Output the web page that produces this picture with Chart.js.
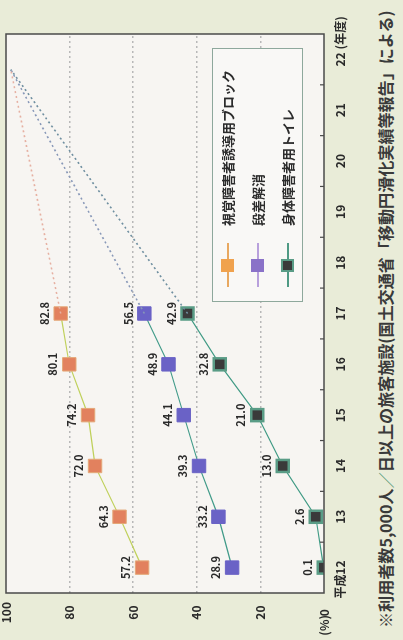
<!DOCTYPE html>
<html lang="ja">
<head>
<meta charset="utf-8">
<title>旅客施設のバリアフリー化の推移</title>
<script src="https://cdn.jsdelivr.net/npm/chart.js@4.4.1/dist/chart.umd.min.js"></script>
<style>
  html, body { margin: 0; padding: 0; }
  body {
    width: 403px; height: 640px; overflow: hidden;
    background: #e9ecd8;
    font-family: "Noto Sans CJK JP", "Noto Sans", sans-serif;
  }
  /* 横向きに描いて -90度回転させる */
  #wrap {
    position: absolute; left: 0; top: 0;
    width: 640px; height: 403px;
    transform-origin: 0 0;
    transform: translate(0, 640px) rotate(-90deg);
  }
  #chart { position: absolute; left: 0; top: 0; }
  #legend {
    position: absolute; left: 338px; top: 212px;
    width: 252px; height: 89px;
    border: 1.5px solid #8ea89c;
    background: #f9f8f6;
  }
  .item {
    position: absolute; left: 0; height: 20px;
    font-size: 13px; font-weight: bold; color: #2c2c2c;
    white-space: nowrap;
  }
  .icon { position: absolute; left: 14px; top: 9px; width: 44px; height: 1.5px; }
  .sq { position: absolute; left: 15px; top: -6px; width: 13px; height: 13px; box-sizing: border-box; }
  .txt { position: absolute; left: 75px; top: 0; line-height: 20px; }
  #note {
    position: absolute; left: 12px; top: 374px;
    font-size: 16px; font-weight: bold; color: #3a3a3a;
    white-space: nowrap; transform-origin: 0 0; line-height: 22px;
  }
  #note .g { color: #5a9a7a; }
</style>
</head>
<body>
<div id="wrap">
  <canvas id="chart" width="640" height="365"></canvas>
  <div id="legend">
    <div class="item" style="top:5px">
      <div class="icon" style="background:#e8a860"><div class="sq" style="background:#f0a24e"></div></div>
      <div class="txt">視覚障害者誘導用ブロック</div>
    </div>
    <div class="item" style="top:35px">
      <div class="icon" style="background:#b8a0dc"><div class="sq" style="background:#8a72c8"></div></div>
      <div class="txt">段差解消</div>
    </div>
    <div class="item" style="top:65px">
      <div class="icon" style="background:#4f9a84"><div class="sq" style="background:#3a3a3a;border:2px solid #5a9c86"></div></div>
      <div class="txt">身体障害者用トイレ</div>
    </div>
  </div>
  <div id="note">※利用者数5,000人<span class="g">／</span>日以上の旅客施設(国土交通省「移動円滑化実績等報告」による)</div>
</div>

<script>
// データ（平成年度）
const years = [12, 13, 14, 15, 16, 17];
const tickYears = [12, 13, 14, 15, 16, 17, 18, 19, 20, 21, 22];
const blockValues = [57.2, 64.3, 72.0, 74.2, 80.1, 82.8];   // 視覚障害者誘導用ブロック
const stepValues = [28.9, 33.2, 39.3, 44.1, 48.9, 56.5];    // 段差解消
const toiletValues = [0.1, 2.6, 13.0, 21.0, 32.8, 42.9];    // 身体障害者用トイレ
const goalPoint = [21.8, 98.5];  // 点線の行き先
const yTicks = [0, 20, 40, 60, 80, 100];

const toXY = vals => vals.map((v, i) => ({ x: years[i], y: v }));
const goalLine = vals => [
    { x: years[years.length - 1], y: vals[vals.length - 1] },
    { x: goalPoint[0], y: goalPoint[1] }
];

const FONT = '"Noto Sans CJK JP", "Noto Sans", sans-serif';

// 背景・枠・目盛り・数値ラベルを描くプラグイン
const decoPlugin = {
    id: 'deco',
    beforeDraw(chart) {
        const { ctx, chartArea: a } = chart;
        ctx.save();
        ctx.fillStyle = '#f7f5f2';
        ctx.fillRect(a.left, a.top, a.right - a.left, a.bottom - a.top);
        ctx.restore();
    },
    afterDatasetsDraw(chart) {
        const { ctx, chartArea: a, scales } = chart;
        ctx.save();
        // 枠
        ctx.strokeStyle = '#4a4a4a';
        ctx.lineWidth = 1.5;
        ctx.strokeRect(a.left, a.top, a.right - a.left, a.bottom - a.top);
        // 内向きの小さい目盛り（年度の間）
        ctx.lineWidth = 1.2;
        for (let h = 12.5; h < 22; h += 1) {
            const px = scales.x.getPixelForValue(h);
            ctx.beginPath();
            ctx.moveTo(px, a.bottom);
            ctx.lineTo(px, a.bottom - 4);
            ctx.stroke();
        }
        // 数値ラベル
        ctx.fillStyle = '#2a2a2a';
        ctx.font = 'bold 11px ' + FONT;
        ctx.textAlign = 'center';
        ctx.textBaseline = 'middle';
        [3, 4, 5].forEach(di => {
            const meta = chart.getDatasetMeta(di);
            const data = chart.data.datasets[di].data;
            meta.data.forEach((pt, i) => {
                ctx.fillText(data[i].y.toFixed(1), pt.x, pt.y - 16);
            });
        });
        // 軸の補足
        ctx.font = 'bold 12px ' + FONT;
        const y0 = scales.y.getPixelForValue(0);
        ctx.textAlign = 'right';
        ctx.fillText('(%)', 25, y0);
        const lx = scales.x.getPixelForValue(12);
        const ly = a.bottom + 16;
        ctx.fillText('平成', lx - 7, ly);
        const rx = scales.x.getPixelForValue(22);
        ctx.textAlign = 'left';
        ctx.fillText('(年度)', rx + 10, ly);
        ctx.restore();
    }
};

const dotted = (data, color) => ({
    data, borderColor: color, borderWidth: 1.6, borderDash: [2, 3],
    pointRadius: 0, fill: false, tension: 0
});

new Chart(document.getElementById('chart'), {
    type: 'line',
    data: {
        datasets: [
            dotted(goalLine(blockValues), '#e6b0a2'),
            dotted(goalLine(stepValues), '#8898b8'),
            dotted(goalLine(toiletValues), '#6f8fa0'),
            {
                label: '視覚障害者誘導用ブロック',
                data: toXY(blockValues),
                borderColor: '#bfd05a', borderWidth: 1.2,
                pointStyle: 'rect', pointRadius: 9.5,
                pointBackgroundColor: '#e2815e', pointBorderColor: '#e4a878', pointBorderWidth: 1
            },
            {
                label: '段差解消',
                data: toXY(stepValues),
                borderColor: '#3f9a88', borderWidth: 1.2,
                pointStyle: 'rect', pointRadius: 9.5,
                pointBackgroundColor: '#6a62c6', pointBorderColor: '#6a62c6', pointBorderWidth: 1
            },
            {
                label: '身体障害者用トイレ',
                data: toXY(toiletValues),
                borderColor: '#3f9a84', borderWidth: 1.2,
                pointStyle: 'rect', pointRadius: 8.5,
                pointBackgroundColor: '#3a3a3a', pointBorderColor: '#5a9c86', pointBorderWidth: 2.5
            }
        ]
    },
    options: {
        responsive: false,
        animation: false,
        devicePixelRatio: 1,
        layout: { autoPadding: false, padding: { top: 6, right: 34, left: 0, bottom: 0 } },
        plugins: { legend: { display: false }, tooltip: { enabled: false } },
        scales: {
            x: {
                type: 'linear',
                min: 11.5, max: 22.5,
                afterBuildTicks: axis => { axis.ticks = tickYears.map(v => ({ value: v })); },
                afterFit: axis => {
                    axis.height = 41;
                    axis.paddingLeft = 0;
                    axis.paddingRight = 0;
                },
                grid: { display: false },
                border: { display: false },
                ticks: {
                    autoSkip: false, maxRotation: 0, padding: 1,
                    color: '#2a2a2a',
                    font: { family: FONT, size: 12, weight: 'bold' },
                    callback: v => String(v)
                }
            },
            y: {
                min: 0, max: 100,
                afterBuildTicks: axis => { axis.ticks = yTicks.map(v => ({ value: v })); },
                afterFit: axis => {
                    axis.width = 47;
                    axis.paddingTop = 0;
                    axis.paddingBottom = 0;
                },
                grid: {
                    drawTicks: false,
                    lineWidth: 1.5,
                    color: c => (c.tick && (c.tick.value === 0 || c.tick.value === 100)) ? 'rgba(0,0,0,0)' : '#b8b8b8'
                },
                border: { display: false, dash: [2, 3] },
                ticks: {
                    crossAlign: 'center', padding: 9,
                    color: '#2a2a2a',
                    font: { family: FONT, size: 12, weight: 'bold' }
                }
            }
        }
    },
    plugins: [decoPlugin]
});

// 注記を幅に合わせる
const note = document.getElementById('note');
const w = note.scrollWidth;
note.style.transform = 'scaleX(' + (618 / w) + ')';
</script>
</body>
</html>
